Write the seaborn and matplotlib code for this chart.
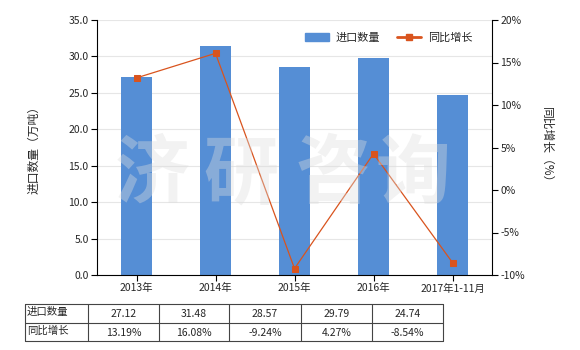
import matplotlib
matplotlib.use("Agg")
import matplotlib.pyplot as plt
import matplotlib.ticker as mticker
from matplotlib.lines import Line2D
from matplotlib.patches import Patch
import seaborn as sns
import numpy as np
import pandas as pd

categories = ["2013年", "2014年", "2015年", "2016年", "2017年1-11月"]
import_qty = [27.12, 31.48, 28.57, 29.79, 24.74]
yoy_growth = [13.19, 16.08, -9.24, 4.27, -8.54]
qty_labels = ["27.12", "31.48", "28.57", "29.79", "24.74"]
growth_labels = ["13.19%", "16.08%", "-9.24%", "4.27%", "-8.54%"]

sns.set_theme(style="white")
plt.rcParams['font.family'] = ['Noto Sans CJK SC', 'DejaVu Sans']
plt.rcParams['axes.unicode_minus'] = False

BAR = "#558ed5"
LINE = "#d9541e"
FS = 7.5

fig = plt.figure(figsize=(5.8, 3.5), dpi=100)
W, H = 580, 350
ax = fig.add_axes([97 / W, 1 - 275 / H, (492 - 97) / W, (275 - 20) / H])

df = pd.DataFrame({"cat": categories, "qty": import_qty, "yoy": yoy_growth})
sns.barplot(data=df, x="cat", y="qty", color=BAR, width=0.39, ax=ax, saturation=1,
            edgecolor=BAR, linewidth=0)
ax.set_ylim(0, 35)
ax.set_yticks(np.arange(0, 35.1, 5))
ax.yaxis.set_major_formatter(mticker.FormatStrFormatter("%.1f"))
ax.set_xlim(-0.5, 4.5)
ax.set_xlabel("")
ax.set_ylabel("进口数量（万吨）", fontsize=FS + 1, labelpad=20)
ax.grid(axis="y", color="#e6e6e6", linewidth=0.8)
ax.set_axisbelow(True)
for s in ["top", "right"]:
    ax.spines[s].set_visible(False)
for s in ["left", "bottom"]:
    ax.spines[s].set_color("black")
    ax.spines[s].set_linewidth(0.8)
ax.tick_params(axis="both", labelsize=FS, length=4, width=0.8, color="black", direction="out",
               left=True, bottom=True, pad=2)

ax2 = ax.twinx()
sns.lineplot(x=np.arange(len(categories)), y=yoy_growth, ax=ax2, color=LINE, linewidth=0.9,
             marker="s", markersize=5, markeredgecolor=LINE, markerfacecolor=LINE)
ax2.set_ylim(-10, 20)
ax2.set_yticks(np.arange(-10, 20.1, 5))
ax2.yaxis.set_major_formatter(mticker.FuncFormatter(lambda v, p: f"{v:.0f}%"))
ax2.set_ylabel("同比增长（%）", fontsize=FS + 1, rotation=270, labelpad=20)
for s in ["top", "left", "bottom"]:
    ax2.spines[s].set_visible(False)
ax2.spines["right"].set_color("black")
ax2.spines["right"].set_linewidth(0.8)
ax2.tick_params(axis="y", labelsize=FS, length=4, width=0.8, color="black", direction="out",
                right=True, pad=2)
ax2.grid(False)

# watermark
for ch, xc in zip("济研咨询", [152, 241, 333, 413]):
    fig.text(xc / W, 1 - 175 / H, ch, fontsize=54, color="#dddddd", alpha=0.38,
             ha="center", va="center", fontweight="bold", zorder=10)

handles = [Patch(facecolor=BAR, edgecolor=BAR),
           Line2D([0], [0], color=LINE, linewidth=2, marker="s", markersize=4)]
ax2.legend(handles, ["进口数量", "同比增长"], loc="upper left", bbox_to_anchor=(0.5, 0.99),
           ncol=2, frameon=False, fontsize=FS + 0.5, handlelength=2.2, columnspacing=1.5,
           handletextpad=0.6)

# table
xs = [25, 88, 159, 229, 301, 372, 443]
ys = [304, 322.5, 341]
tl = []
for x in xs:
    tl.append(Line2D([x / W, x / W], [1 - ys[0] / H, 1 - ys[-1] / H], transform=fig.transFigure,
                     color="#444444", linewidth=0.8))
for y in ys:
    tl.append(Line2D([xs[0] / W, xs[-1] / W], [1 - y / H, 1 - y / H], transform=fig.transFigure,
                     color="#444444", linewidth=0.8))
for l in tl:
    fig.add_artist(l)
rows = [("进口数量", qty_labels), ("同比增长", growth_labels)]
for r, (name, vals) in enumerate(rows):
    yc = (ys[r] + ys[r + 1]) / 2
    fig.text((xs[0] + 2) / W, 1 - (yc - 1) / H, name, fontsize=FS, ha="left", va="center")
    for i, v in enumerate(vals):
        xc = (xs[i + 1] + xs[i + 2]) / 2
        fig.text(xc / W, 1 - (yc + 1) / H, v, fontsize=FS, ha="center", va="center")

fig.savefig("out.png", dpi=100)
